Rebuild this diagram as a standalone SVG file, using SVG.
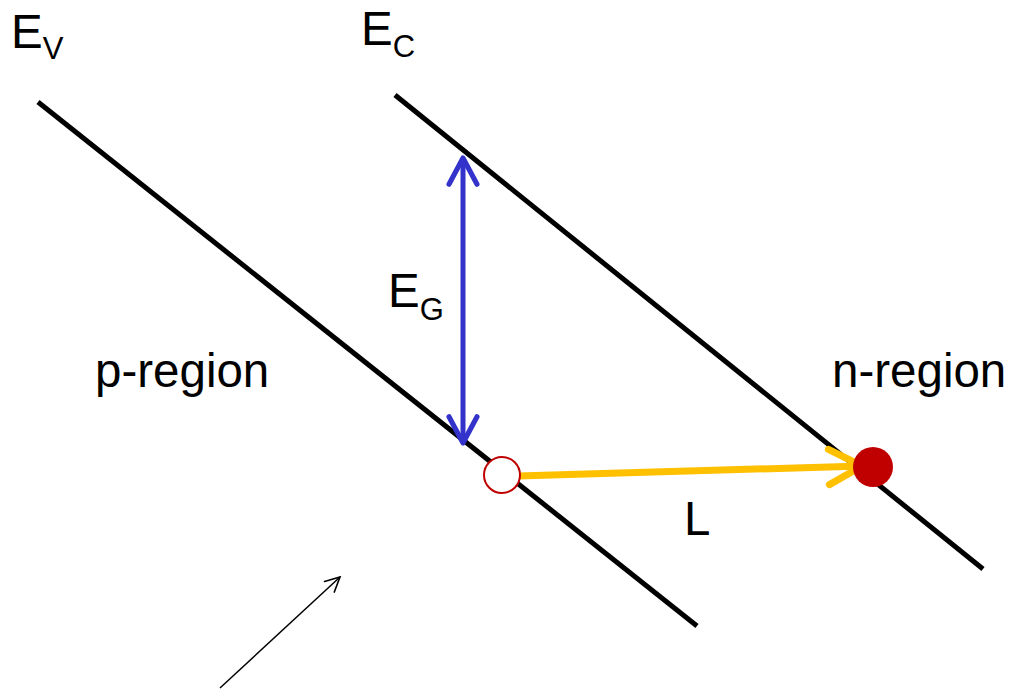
<svg xmlns="http://www.w3.org/2000/svg" width="1010" height="690" viewBox="0 0 1010 690">
<style>
.t{font-family:"Liberation Sans",Arial,sans-serif;fill:#000}
.big{font-size:47.5px}
.sub{font-size:31px}
.band{stroke:#000;stroke-width:5;fill:none}
</style>
<defs>
<marker id="hb" viewBox="0 0 10 10" refX="9" refY="5" markerWidth="7" markerHeight="7" orient="auto-start-reverse" markerUnits="strokeWidth">
<path d="M1.5,1 L9,5 L1.5,9" fill="none" stroke="#3333cc" stroke-width="1.45" stroke-linecap="round" stroke-linejoin="round"/>
</marker>
<marker id="hy" viewBox="0 0 10 10" refX="9" refY="5" markerWidth="6.3" markerHeight="6.3" orient="auto" markerUnits="strokeWidth">
<path d="M1.5,1 L9,5 L1.5,9" fill="none" stroke="#ffc000" stroke-width="1.6" stroke-linecap="round" stroke-linejoin="round"/>
</marker>
<marker id="hk" viewBox="0 0 10 10" refX="9" refY="5" markerWidth="12" markerHeight="12" orient="auto" markerUnits="strokeWidth">
<path d="M1,1 L9,5 L1,9" fill="none" stroke="#000" stroke-width="0.9" stroke-linecap="round"/>
</marker>
</defs>
<g id="bands">
<line id="ev-line" class="band" x1="38" y1="102" x2="697" y2="626"/>
<line id="ec-line" class="band" x1="395" y1="95" x2="983" y2="569"/>
</g>
<g id="connectors">
<line id="eg-arrow" x1="463" y1="443" x2="463" y2="158" stroke="#3333cc" stroke-width="5" marker-start="url(#hb)" marker-end="url(#hb)"/>
<line id="l-arrow" x1="518" y1="476" x2="862" y2="466" stroke="#ffc000" stroke-width="7" marker-end="url(#hy)"/>
<line id="light-arrow" x1="220" y1="688" x2="340" y2="577" stroke="#000" stroke-width="1.5" marker-end="url(#hk)"/>
</g>
<g id="hole"><circle cx="502" cy="475" r="18" fill="#fff" stroke="#c00000" stroke-width="2"/></g>
<g id="electron"><circle cx="873" cy="467" r="20" fill="#c00000"/></g>
<g id="label-ev"><text class="t big" x="11" y="48">E<tspan class="sub" dy="11">V</tspan></text></g>
<g id="label-ec"><text class="t big" x="361" y="45">E<tspan class="sub" dy="12">C</tspan></text></g>
<g id="label-eg"><text class="t big" x="388" y="307">E<tspan class="sub" dy="13">G</tspan></text></g>
<g id="label-p"><text class="t big" x="95" y="387">p-region</text></g>
<g id="label-n"><text class="t big" x="832" y="387">n-region</text></g>
<g id="label-l"><text class="t big" x="684" y="535">L</text></g>
</svg>
